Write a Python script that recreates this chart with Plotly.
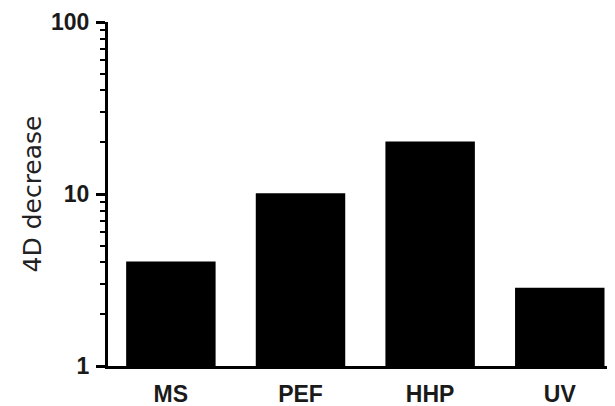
import plotly.graph_objects as go

categories = ["MS", "PEF", "HHP", "UV"]
values = [4.05, 10.1, 20.2, 2.85]
y_tickvals = [1, 10, 100]
y_ticktext = ["1", "10", "100"]
minor_vals = [2, 3, 4, 5, 6, 7, 8, 9, 20, 30, 40, 50, 60, 70, 80, 90]

tick_font = dict(family="Arial", size=23, weight="bold", color="#1a1a1a")

fig = go.Figure(go.Bar(x=categories, y=values, marker=dict(color="black", line=dict(width=0)), width=0.69))

fig.update_layout(
    width=607, height=398,
    margin=dict(l=100, r=0, t=14, b=40),
    plot_bgcolor="white", paper_bgcolor="white",
    showlegend=False,
    font=dict(family="Arial", color="black"),
)
fig.update_xaxes(
    range=[-0.485, 3.426], showline=True, linecolor="black", linewidth=3,
    ticks="", showgrid=False, zeroline=False,
    tickfont=tick_font, ticklabelstandoff=5,
)
fig.update_yaxes(
    type="log", range=[0, 2], showline=True, linecolor="black", linewidth=3,
    ticks="outside", ticklen=9, tickwidth=2.5, tickcolor="black",
    tickvals=y_tickvals, ticktext=y_ticktext, showgrid=False, zeroline=False,
    tickfont=tick_font, ticklabelstandoff=2,
    minor=dict(ticks="outside", ticklen=5, tickwidth=2, tickcolor="black", tickvals=minor_vals, showgrid=False),
    title=dict(text="4D decrease", font=dict(family="DejaVu Sans", size=25, color="#222"), standoff=3),
)
fig.write_html("out.html")
